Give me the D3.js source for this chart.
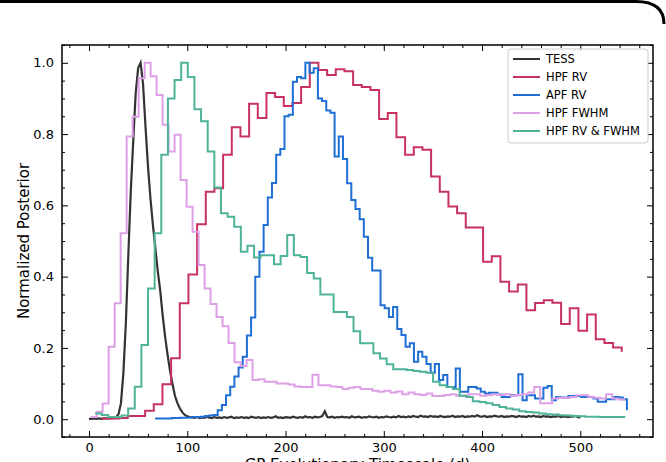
<!DOCTYPE html>
<html>
<head>
<meta charset="utf-8">
<script src="https://cdn.jsdelivr.net/npm/d3@7"></script>
<style>
  body { margin: 0; background: #fff; }
  text { font-family: "DejaVu Sans", sans-serif; }
</style>
</head>
<body>
<svg id="chart" width="666" height="462"></svg>
<script>
// series names + colours (legend order = drawing order)
const seriesNames = ['TESS', 'HPF RV', 'APF RV', 'HPF FWHM', 'HPF RV & FWHM']
const seriesColors = ['#333333', '#c8325f', '#1f6fd4', '#dda0e6', '#4fb39a']

const xTicks = [0, 100, 200, 300, 400, 500]
const yTicks = [0.0, 0.2, 0.4, 0.6, 0.8, 1.0]

// TESS posterior, sampled every 2.5 d from 0 to 500
const tessStep = 2.5
const tess = [
  0.001,0.001,0.002,0.001,0.002,0.001,0.002,0.002,0.002,0.003,
  0.003,0.005,0.014,0.045,0.13,0.27,0.46,0.64,0.78,0.915,
  0.985,1.0,0.94,0.82,0.71,0.62,0.545,0.48,0.415,0.36,
  0.29,0.23,0.18,0.135,0.098,0.065,0.045,0.03,0.019,0.012,
  0.008,0.006,0.005,
  0.004,0.006,0.003,0.005,0.004,0.007,0.004,0.003,0.006,0.004,
  0.005,0.003,0.006,0.004,0.005,0.007,0.003,0.005,0.004,0.006,
  0.004,0.005,0.003,0.007,0.005,0.004,0.006,0.003,0.005,0.004,
  0.006,0.004,0.005,0.008,0.004,0.005,0.003,0.006,0.005,0.004,
  0.007,0.005,0.004,0.006,0.004,0.008,0.005,0.006,0.004,0.007,
  0.005,0.006,0.009,0.022,0.006,0.005,0.007,0.004,0.006,0.005,
  0.007,0.005,0.006,0.004,0.008,0.005,0.006,0.007,0.004,0.006,
  0.005,0.008,0.006,0.005,0.007,0.004,0.006,0.005,0.008,0.006,
  0.005,0.007,0.005,0.009,0.006,0.007,0.005,0.008,0.006,0.009,
  0.007,0.006,0.01,0.007,0.008,0.006,0.009,0.007,0.008,0.006,
  0.009,0.007,0.006,0.008,0.007,0.01,0.006,0.008,0.007,0.009,
  0.006,0.008,0.007,0.009,0.007,0.011,0.008,0.007,0.009,0.006,
  0.008,0.007,0.01,0.008,0.007,0.009,0.006,0.008,0.007,0.009,
  0.008,0.006,0.009,0.007,0.008,0.006,0.009,0.007,0.01,0.007,
  0.008,0.006,0.009,0.007,0.008,0.006,0.008,0.007,0.009,0.006,
  0.008,0.007,0.006,0.008,0.007,0.009,0.006,0.004
]

// HPF RV histogram (left edge, bin width, values)
const hpfRvStart = 13
const hpfRvWidth = 8.82
const hpfRv = [
  0.002,0.002,0.003,0.009,0.009,0.024,0.042,0.098,0.171,0.325,
  0.406,0.547,0.638,0.648,0.742,0.819,0.793,0.885,0.845,0.915,
  0.904,0.879,0.887,0.932,1.0,0.98,0.966,0.982,0.976,0.938,
  0.932,0.924,0.842,0.859,0.791,0.742,0.763,0.756,0.681,0.638,
  0.597,0.578,0.538,0.538,0.442,0.457,0.386,0.358,0.378,0.306,
  0.326,0.334,0.327,0.267,0.311,0.248,0.294,0.224,0.214,0.201,
  0.189
]

// APF RV histogram
const apfRvStart = 67.2
const apfRvWidth = 4.25
const apfRv = [
  0.002,0.002,0.002,0.002,0.003,0.003,0.004,0.004,0.005,0.006,
  0.006,0.007,0.009,0.01,0.012,0.025,0.04,0.067,0.091,0.12,
  0.145,0.175,0.235,0.285,0.40,0.47,0.545,0.622,0.663,0.742,
  0.758,0.85,0.854,0.947,0.96,0.957,1.0,0.972,0.985,0.9,
  0.893,0.866,0.86,0.737,0.793,0.73,0.662,0.615,0.59,0.561,
  0.512,0.453,0.417,0.417,0.32,0.311,0.287,0.315,0.253,0.236,
  0.203,0.213,0.161,0.189,0.175,0.155,0.13,0.155,0.11,0.124,
  0.09,0.09,0.142,0.077,0.077,0.09,0.09,0.086,0.077,0.072,
  0.074,0.074,0.069,0.062,0.062,0.067,0.067,0.126,0.053,0.067,
  0.067,0.058,0.058,0.088,0.093,0.053,0.062,0.061,0.061,0.065,
  0.065,0.065,0.062,0.062,0.062,0.058,0.049,0.049,0.056,0.056,
  0.062,0.061,0.056,0.025
]

// HPF FWHM histogram
const hpfFwhmStart = 1.7
const hpfFwhmWidth = 6.1
const hpfFwhm = [
  0.006,0.021,0.044,0.203,0.325,0.522,0.793,0.849,0.957,1.0,
  0.962,0.91,0.826,0.751,0.798,0.671,0.596,0.526,0.433,0.367,
  0.323,0.287,0.261,0.214,0.16,0.149,0.166,0.11,0.112,0.105,
  0.105,0.1,0.1,0.097,0.092,0.09,0.09,0.125,0.095,0.095,
  0.092,0.09,0.085,0.088,0.09,0.085,0.085,0.08,0.077,0.08,
  0.075,0.078,0.07,0.075,0.07,0.068,0.072,0.065,0.065,0.068,
  0.07,0.066,0.066,0.07,0.07,0.066,0.068,0.07,0.068,0.07,
  0.066,0.068,0.07,0.075,0.09,0.045,0.045,0.058,0.06,0.06,
  0.062,0.067,0.067,0.063,0.06,0.058,0.07,0.058,0.055,0.052
]

// HPF RV & FWHM histogram
const jointStart = 6.1
const jointWidth = 6.746
const joint = [
  0.016,0.012,0.006,0.006,0.01,0.03,0.091,0.208,0.367,0.522,
  0.742,0.9,0.952,1.0,0.96,0.87,0.836,0.751,0.65,0.578,
  0.568,0.54,0.47,0.487,0.454,0.46,0.46,0.435,0.458,0.517,
  0.46,0.455,0.41,0.395,0.35,0.35,0.301,0.301,0.287,0.247,
  0.213,0.213,0.185,0.17,0.154,0.14,0.14,0.138,0.135,0.133,
  0.13,0.105,0.095,0.09,0.085,0.066,0.062,0.05,0.048,0.045,
  0.04,0.034,0.03,0.027,0.022,0.02,0.019,0.016,0.014,0.013,
  0.011,0.01,0.009,0.008,0.007,0.007,0.006,0.006,0.006,0.006,
  0.006
]

function histPoints(start, width, values) {
  return values.map((v, i) => [start + width * i, v])
}

const svg = d3.select('#chart')
const plotLeft = 62, plotRight = 653, plotTop = 45, plotBottom = 437

const x = d3.scaleLinear().domain([-27.5, 574]).range([plotLeft, plotRight])
const y = d3.scaleLinear().domain([-0.05, 1.05]).range([plotBottom, plotTop])

svg.append('rect').attr('width', 666).attr('height', 462).attr('fill', '#fff')

// screenshot edge in the top right corner
svg.append('path')
  .attr('d', 'M0,1.5 H636 Q664,1.5 664,24')
  .attr('fill', 'none')
  .attr('stroke', '#000')
  .attr('stroke-width', 3)

const plot = svg.append('g')

const stepLine = d3.line()
  .x(d => x(d[0]))
  .y(d => y(d[1]))
  .curve(d3.curveStepAfter)

const plainLine = d3.line()
  .x(d => x(d[0]))
  .y(d => y(d[1]))

const allSeries = [
  { pts: tess.map((v, i) => [i * tessStep, v]), gen: plainLine, w: 2.2 },
  { pts: histPoints(hpfRvStart, hpfRvWidth, hpfRv), gen: stepLine, w: 2 },
  { pts: histPoints(apfRvStart, apfRvWidth, apfRv), gen: stepLine, w: 2 },
  { pts: histPoints(hpfFwhmStart, hpfFwhmWidth, hpfFwhm), gen: stepLine, w: 2 },
  { pts: histPoints(jointStart, jointWidth, joint), gen: stepLine, w: 2 }
]

allSeries.forEach((s, i) => {
  plot.append('path')
    .attr('d', s.gen(s.pts))
    .attr('fill', 'none')
    .attr('stroke', seriesColors[i])
    .attr('stroke-width', s.w)
    .attr('stroke-linejoin', 'miter')
})

// minor tick positions
const xMinor = d3.range(-20, 571, 20).filter(v => v % 100 !== 0)
const yMinor = d3.range(-0.05, 1.051, 0.05).map(v => +v.toFixed(2)).filter(v => Math.round(v * 100) % 20 !== 0)

function styleAxis(g) {
  g.select('.domain').remove()
  g.selectAll('line').attr('stroke', '#000').attr('stroke-width', 1)
  g.selectAll('text').attr('fill', '#000').style('font-size', '13px')
}

svg.append('g').attr('transform', `translate(0,${plotBottom})`)
  .call(d3.axisBottom(x).tickValues(xTicks).tickSize(-6).tickPadding(6).tickFormat(d3.format('d')))
  .call(styleAxis)
svg.append('g').attr('transform', `translate(0,${plotBottom})`)
  .call(d3.axisBottom(x).tickValues(xMinor).tickSize(-3).tickFormat(''))
  .call(styleAxis)
svg.append('g').attr('transform', `translate(0,${plotTop})`)
  .call(d3.axisTop(x).tickValues(xTicks).tickSize(-6).tickFormat(''))
  .call(styleAxis)
svg.append('g').attr('transform', `translate(0,${plotTop})`)
  .call(d3.axisTop(x).tickValues(xMinor).tickSize(-3).tickFormat(''))
  .call(styleAxis)

svg.append('g').attr('transform', `translate(${plotLeft},0)`)
  .call(d3.axisLeft(y).tickValues(yTicks).tickSize(-6).tickPadding(8).tickFormat(d3.format('.1f')))
  .call(styleAxis)
svg.append('g').attr('transform', `translate(${plotLeft},0)`)
  .call(d3.axisLeft(y).tickValues(yMinor).tickSize(-3).tickFormat(''))
  .call(styleAxis)
svg.append('g').attr('transform', `translate(${plotRight},0)`)
  .call(d3.axisRight(y).tickValues(yTicks).tickSize(-6).tickFormat(''))
  .call(styleAxis)
svg.append('g').attr('transform', `translate(${plotRight},0)`)
  .call(d3.axisRight(y).tickValues(yMinor).tickSize(-3).tickFormat(''))
  .call(styleAxis)

// frame
svg.append('rect')
  .attr('x', plotLeft).attr('y', plotTop)
  .attr('width', plotRight - plotLeft).attr('height', plotBottom - plotTop)
  .attr('fill', 'none').attr('stroke', '#000').attr('stroke-width', 1.5)

// axis labels (the x label is cut by the bottom edge, as in the source image)
svg.append('text')
  .attr('transform', `translate(29,${(plotTop + plotBottom) / 2}) rotate(-90)`)
  .attr('text-anchor', 'middle')
  .style('font-size', '15px')
  .text('Normalized Posterior')

svg.append('text')
  .attr('x', (plotLeft + plotRight) / 2).attr('y', 470)
  .attr('text-anchor', 'middle')
  .style('font-size', '15px')
  .text('GP Evolutionary Timescale (d)')

// legend
const legend = svg.append('g').attr('transform', 'translate(508,49)')
legend.append('rect')
  .attr('width', 140).attr('height', 94).attr('rx', 3)
  .attr('fill', '#fff').attr('fill-opacity', 0.8)
  .attr('stroke', '#cccccc')

seriesNames.forEach((name, i) => {
  const ly = 10 + i * 18
  legend.append('line')
    .attr('x1', 5).attr('x2', 32).attr('y1', ly).attr('y2', ly)
    .attr('stroke', seriesColors[i]).attr('stroke-width', 2)
  legend.append('text')
    .attr('x', 38).attr('y', ly).attr('dy', '0.35em')
    .style('font-size', '11.5px')
    .text(name)
})
</script>
</body>
</html>
